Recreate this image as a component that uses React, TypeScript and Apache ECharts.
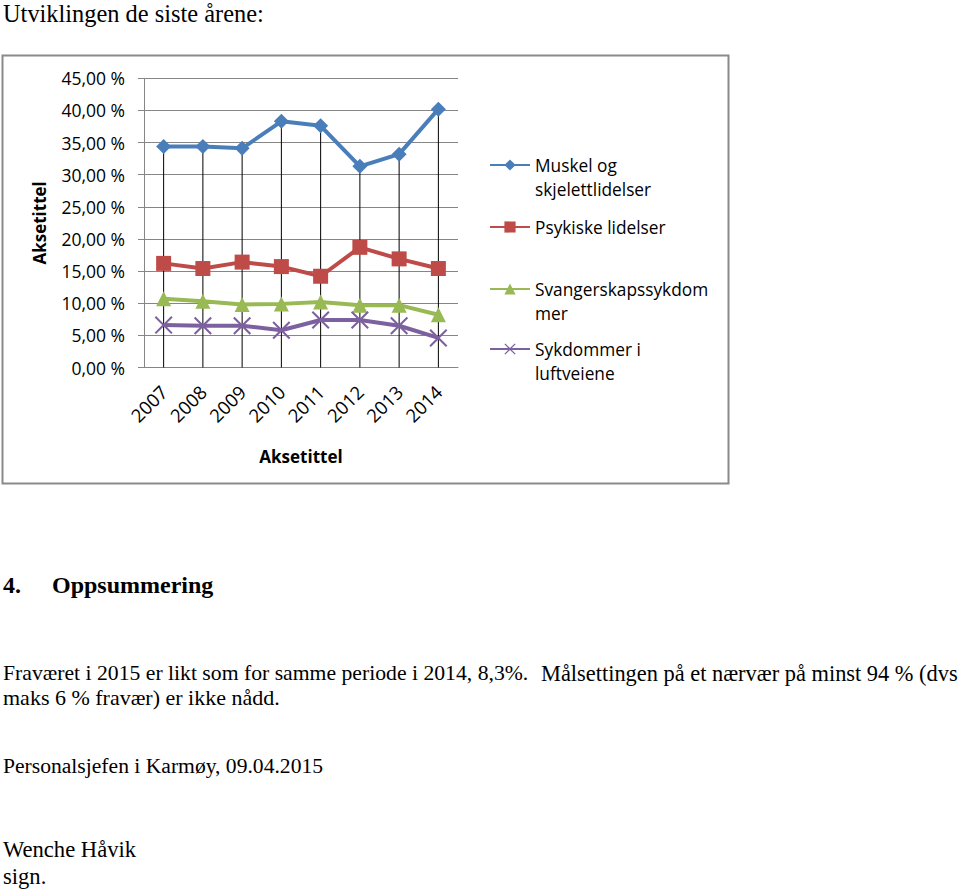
import React, { useEffect, useRef } from "react";
import * as echarts from "echarts";

const categories = ["2007", "2008", "2009", "2010", "2011", "2012", "2013", "2014"];
const seriesNames = [
  "Muskel og skjelettlidelser",
  "Psykiske lidelser",
  "Svangerskapssykdommer",
  "Sykdommer i luftveiene",
];
const legendLabels = [
  "Muskel og\nskjelettlidelser",
  "Psykiske lidelser",
  "Svangerskapssykdom\nmer",
  "Sykdommer i\nluftveiene",
];
const muskel = [34.4, 34.4, 34.1, 38.3, 37.6, 31.3, 33.2, 40.2];
const psykiske = [16.2, 15.4, 16.4, 15.7, 14.2, 18.7, 16.9, 15.4];
const svanger = [10.7, 10.3, 9.8, 9.9, 10.2, 9.7, 9.7, 8.2];
const luftveier = [6.6, 6.5, 6.5, 5.8, 7.4, 7.4, 6.5, 4.6];
const yTicks = [0, 5, 10, 15, 20, 25, 30, 35, 40, 45];
const axisTitle = "Aksetittel";

const colors = ["#4A7EBB", "#BE4B48", "#98B954", "#7D60A0"];
const FONT = "'Open Sans', sans-serif";
const SERIF = "'Liberation Serif', 'Times New Roman', serif";

const xSymbol =
  "path://M0,1.6 L1.6,0 L10,8.4 L18.4,0 L20,1.6 L11.6,10 L20,18.4 L18.4,20 L10,11.6 L1.6,20 L0,18.4 L8.4,10 Z";

function pageText(text: string, x: number, y: number, size: number, bold = false) {
  return {
    type: "text",
    x,
    y,
    style: {
      text,
      fontFamily: SERIF,
      fontSize: size,
      fontWeight: bold ? "bold" : "normal",
      fill: "#000",
      verticalAlign: "middle",
      align: "left",
    },
  };
}

export default function App() {
  const ref = useRef<HTMLDivElement>(null);
  useEffect(() => {
    const chart = echarts.init(ref.current!, null, { renderer: "svg" });
    const legendTops = [129, 215, 253, 313];
    const legendMultiline = [true, false, true, true];
    const option: any = {
      animation: false,
      backgroundColor: "#fff",
      grid: { left: 144, top: 78.3, width: 314, height: 289.2, containLabel: false },
      legend: seriesNames.map((name, i) => ({
        data: [name],
        left: 489,
        top: legendTops[i],
        padding: 0,
        itemWidth: 40,
        itemHeight: 14,
        itemGap: 0,
        selectedMode: false,
        formatter: () => (legendMultiline[i] ? "\n" : "") + legendLabels[i],
        textStyle: { fontFamily: FONT, fontSize: 17.3, lineHeight: 24, color: "#000" },
      })),
      xAxis: {
        type: "category",
        data: categories,
        boundaryGap: true,
        axisLine: { show: true, lineStyle: { color: "#868686", width: 1 } },
        axisTick: { show: false },
        axisLabel: {
          rotate: 45,
          margin: 21,
          fontFamily: FONT,
          fontSize: 18.5,
          color: "#000",
        },
        name: axisTitle,
        nameLocation: "middle",
        nameGap: 80,
        nameTextStyle: { fontFamily: FONT, fontSize: 17, fontWeight: "bold", color: "#000" },
        splitLine: { show: false },
      },
      yAxis: {
        type: "value",
        min: yTicks[0],
        max: yTicks[yTicks.length - 1],
        interval: yTicks[1] - yTicks[0],
        axisLine: { show: true, lineStyle: { color: "#868686", width: 1 } },
        axisTick: { show: true, length: 6, lineStyle: { color: "#868686" } },
        splitLine: { show: true, lineStyle: { color: "#868686", width: 1 } },
        axisLabel: {
          margin: 19,
          fontFamily: FONT,
          fontSize: 17.5,
          color: "#000",
          formatter: (v: number) => v.toFixed(2).replace(".", ",") + " %",
        },
        name: axisTitle,
        nameLocation: "middle",
        nameRotate: 90,
        nameGap: 96,
        nameTextStyle: { fontFamily: FONT, fontSize: 17, fontWeight: "bold", color: "#000" },
      },
      series: [
        {
          name: "dropLines",
          type: "bar",
          data: muskel,
          barWidth: 1,
          itemStyle: { color: "#000" },
          z: 1,
          silent: true,
        },
        {
          name: seriesNames[0],
          type: "line",
          data: muskel,
          symbol: "diamond",
          symbolSize: 15,
          lineStyle: { color: colors[0], width: 4 },
          itemStyle: { color: colors[0] },
          z: 5,
        },
        {
          name: seriesNames[1],
          type: "line",
          data: psykiske,
          symbol: "rect",
          symbolSize: 15,
          lineStyle: { color: colors[1], width: 4 },
          itemStyle: { color: colors[1] },
          z: 5,
        },
        {
          name: seriesNames[2],
          type: "line",
          data: svanger,
          symbol: "triangle",
          symbolSize: 15,
          lineStyle: { color: colors[2], width: 4 },
          itemStyle: { color: colors[2] },
          z: 5,
        },
        {
          name: seriesNames[3],
          type: "line",
          data: luftveier,
          symbol: xSymbol,
          symbolSize: 18,
          lineStyle: { color: colors[3], width: 4 },
          itemStyle: { color: colors[3] },
          z: 5,
        },
      ],
      graphic: [
        {
          type: "rect",
          shape: { x: 2.5, y: 55.5, width: 726, height: 428 },
          style: { fill: "none", stroke: "#8a8a8a", lineWidth: 2 },
          z: -1,
        },
        pageText("Utviklingen de siste årene:", 3, 13, 24.4),
        pageText("4.", 3, 585, 24, true),
        pageText("Oppsummering", 52, 585, 24, true),
        pageText("Fraværet i 2015 er likt som for samme periode i 2014, 8,3%.", 3, 673, 21.7),
        pageText("Målsettingen på et nærvær på minst 94 % (dvs", 541, 673, 22.4),
        pageText("maks 6 % fravær) er ikke nådd.", 3, 697, 22),
        pageText("Personalsjefen i Karmøy, 09.04.2015", 3, 766, 21.6),
        pageText("Wenche Håvik", 3, 849, 22.6),
        pageText("sign.", 3, 876, 22.6),
      ],
    };
    chart.setOption(option);
    return () => chart.dispose();
  }, []);
  return (
    <div
      ref={ref}
      style={{ position: "absolute", left: 0, top: 0, width: 960, height: 890, background: "#fff" }}
    />
  );
}
